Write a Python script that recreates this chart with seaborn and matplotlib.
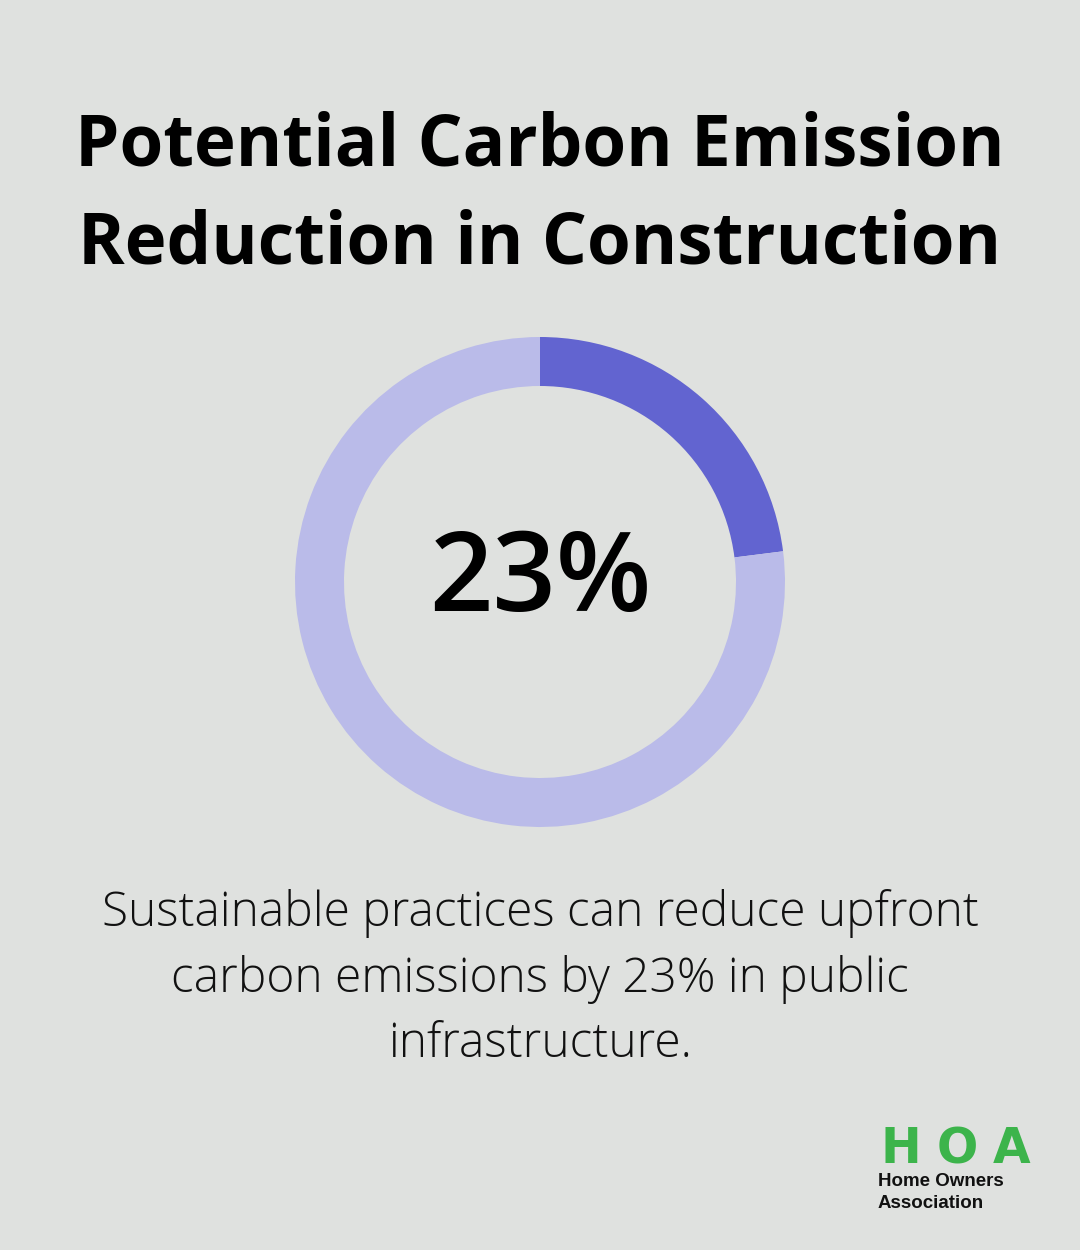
import matplotlib.pyplot as plt
import seaborn as sns

# data
labels = ['Reduction', 'Remaining']
values = [23, 77]
colors = ['#6264d0', '#babbe9']
bg = '#dfe1df'

sns.set_theme(style='white', rc={'figure.facecolor': bg, 'axes.facecolor': bg})

fig = plt.figure(figsize=(10.8, 12.5), dpi=100)
fig.patch.set_facecolor(bg)

# text layer in pixel coords (y from top)
ax = fig.add_axes([0, 0, 1, 1])
ax.set_xlim(0, 1080)
ax.set_ylim(1250, 0)
ax.axis('off')

ax.text(540, 146, 'Potential Carbon Emission', ha='center', va='center',
        fontsize=51, fontweight='bold', family='Open Sans', color='#000000')
ax.text(540, 244, 'Reduction in Construction', ha='center', va='center',
        fontsize=51, fontweight='bold', family='Open Sans', color='#000000')

body = ['Sustainable practices can reduce upfront',
        'carbon emissions by 23% in public',
        'infrastructure.']
for i, line in enumerate(body):
    ax.text(540, 913 + i * 66, line, ha='center', va='center',
            fontsize=34.5, fontweight='light', family='Open Sans', color='#111111')

# logo, letters spread out to match the wide logotype
for ch, x in zip('HOA', [901, 957, 1012]):
    ax.text(x, 1149, ch, ha='center', va='center', fontsize=35, fontweight='heavy',
            family='DejaVu Sans', color='#3cb44b')
ax.text(878, 1181, 'Home Owners', ha='left', va='center', fontsize=13.5,
        fontweight='bold', family='Liberation Sans', color='#111111')
ax.text(878, 1203, 'Association', ha='left', va='center', fontsize=13.5,
        fontweight='bold', family='Liberation Sans', color='#111111')

# donut
dax = fig.add_axes([295 / 1080, (1250 - 827) / 1250, 490 / 1080, 490 / 1250])
dax.pie(values, colors=colors, startangle=90, counterclock=False, radius=1,
        wedgeprops=dict(width=0.2, edgecolor='none'))
dax.set_xlim(-1, 1)
dax.set_ylim(-1, 1)
dax.set_aspect('equal')
dax.text(0, 0, '23%', ha='center', va='center', fontsize=80,
         fontweight='semibold', family='Open Sans', color='#000000')

fig.savefig('out.png', dpi=100, facecolor=bg)
